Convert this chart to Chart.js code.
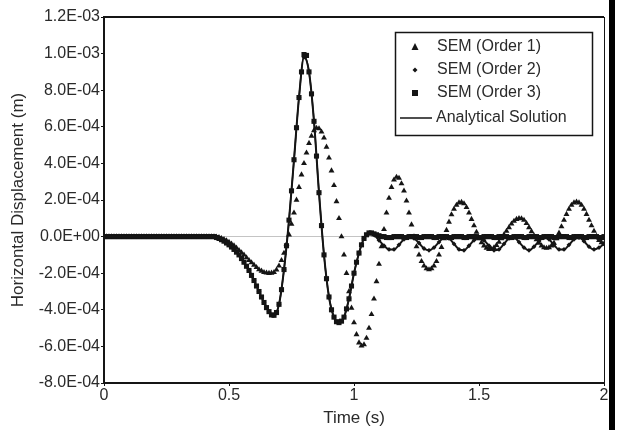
<!DOCTYPE html>
<html>
<head>
<meta charset="utf-8">
<script src="https://cdn.jsdelivr.net/npm/chart.js@4"></script>
<style>
  html, body { margin: 0; padding: 0; background: #fff; }
  canvas { display: block; }
</style>
</head>
<body>
<canvas id="c" width="619" height="430"></canvas>
<script>
// coarse time samples (s), every 0.02 s: analytical line and order 2
const times = [
  0.00, 0.02, 0.04, 0.06, 0.08, 0.10, 0.12, 0.14, 0.16, 0.18,
  0.20, 0.22, 0.24, 0.26, 0.28, 0.30, 0.32, 0.34, 0.36, 0.38,
  0.40, 0.42, 0.44, 0.46, 0.48, 0.50, 0.52, 0.54, 0.56, 0.58,
  0.60, 0.62, 0.64, 0.66, 0.68, 0.70, 0.72, 0.74, 0.76, 0.78,
  0.80, 0.82, 0.84, 0.86, 0.88, 0.90, 0.92, 0.94, 0.96, 0.98,
  1.00, 1.02, 1.04, 1.06, 1.08, 1.10, 1.12, 1.14, 1.16, 1.18,
  1.20, 1.22, 1.24, 1.26, 1.28, 1.30, 1.32, 1.34, 1.36, 1.38,
  1.40, 1.42, 1.44, 1.46, 1.48, 1.50, 1.52, 1.54, 1.56, 1.58,
  1.60, 1.62, 1.64, 1.66, 1.68, 1.70, 1.72, 1.74, 1.76, 1.78,
  1.80, 1.82, 1.84, 1.86, 1.88, 1.90, 1.92, 1.94, 1.96, 1.98,
  2.00
];

// fine time samples (s), every 0.01 s: order 1 and order 3 markers
const timesFine = [
  0.00, 0.01, 0.02, 0.03, 0.04, 0.05, 0.06, 0.07, 0.08, 0.09,
  0.10, 0.11, 0.12, 0.13, 0.14, 0.15, 0.16, 0.17, 0.18, 0.19,
  0.20, 0.21, 0.22, 0.23, 0.24, 0.25, 0.26, 0.27, 0.28, 0.29,
  0.30, 0.31, 0.32, 0.33, 0.34, 0.35, 0.36, 0.37, 0.38, 0.39,
  0.40, 0.41, 0.42, 0.43, 0.44, 0.45, 0.46, 0.47, 0.48, 0.49,
  0.50, 0.51, 0.52, 0.53, 0.54, 0.55, 0.56, 0.57, 0.58, 0.59,
  0.60, 0.61, 0.62, 0.63, 0.64, 0.65, 0.66, 0.67, 0.68, 0.69,
  0.70, 0.71, 0.72, 0.73, 0.74, 0.75, 0.76, 0.77, 0.78, 0.79,
  0.80, 0.81, 0.82, 0.83, 0.84, 0.85, 0.86, 0.87, 0.88, 0.89,
  0.90, 0.91, 0.92, 0.93, 0.94, 0.95, 0.96, 0.97, 0.98, 0.99,
  1.00, 1.01, 1.02, 1.03, 1.04, 1.05, 1.06, 1.07, 1.08, 1.09,
  1.10, 1.11, 1.12, 1.13, 1.14, 1.15, 1.16, 1.17, 1.18, 1.19,
  1.20, 1.21, 1.22, 1.23, 1.24, 1.25, 1.26, 1.27, 1.28, 1.29,
  1.30, 1.31, 1.32, 1.33, 1.34, 1.35, 1.36, 1.37, 1.38, 1.39,
  1.40, 1.41, 1.42, 1.43, 1.44, 1.45, 1.46, 1.47, 1.48, 1.49,
  1.50, 1.51, 1.52, 1.53, 1.54, 1.55, 1.56, 1.57, 1.58, 1.59,
  1.60, 1.61, 1.62, 1.63, 1.64, 1.65, 1.66, 1.67, 1.68, 1.69,
  1.70, 1.71, 1.72, 1.73, 1.74, 1.75, 1.76, 1.77, 1.78, 1.79,
  1.80, 1.81, 1.82, 1.83, 1.84, 1.85, 1.86, 1.87, 1.88, 1.89,
  1.90, 1.91, 1.92, 1.93, 1.94, 1.95, 1.96, 1.97, 1.98, 1.99,
  2.00
];

// displacements in units of 1E-04 m
const order1 = [
  0, 0, 0, 0, 0, 0, 0, 0, 0, 0,
  0, 0, 0, 0, 0, 0, 0, 0, 0, 0,
  0, 0, 0, 0, 0, 0, 0, 0, 0, 0,
  0, 0, 0, 0, 0, 0, 0, 0, 0, 0,
  0, 0, 0, 0, 0, -0.02, -0.05, -0.1, -0.15, -0.22,
  -0.3, -0.4, -0.5, -0.62, -0.75, -0.88, -1.0, -1.15, -1.3, -1.42,
  -1.55, -1.68, -1.8, -1.88, -1.95, -1.98, -2.0, -1.99, -1.95, -1.82,
  -1.6, -1.3, -0.9, -0.42, 0.1, 0.68, 1.3, 2.0, 2.7, 3.38,
  4.0, 4.58, 5.1, 5.5, 5.8, 5.93, 5.9, 5.72, 5.4, 4.9,
  4.3, 3.6, 2.8, 1.92, 1.0, 0.0, -1.0, -2.0, -3.0, -3.9,
  -4.7, -5.35, -5.8, -5.97, -5.9, -5.55, -5.0, -4.25, -3.4, -2.45,
  -1.5, -0.55, 0.4, 1.3, 2.1, 2.7, 3.1, 3.25, 3.2, 2.9,
  2.5, 1.95, 1.3, 0.65, 0.0, -0.55, -1.0, -1.35, -1.6, -1.75,
  -1.8, -1.75, -1.6, -1.35, -1.0, -0.58, -0.1, 0.35, 0.8, 1.2,
  1.5, 1.72, 1.85, 1.88, 1.8, 1.6, 1.3, 0.95, 0.6, 0.25,
  -0.1, -0.33, -0.5, -0.62, -0.7, -0.68, -0.6, -0.47, -0.3, -0.1,
  0.1, 0.3, 0.5, 0.7, 0.85, 0.95, 1.0, 0.98, 0.9, 0.72,
  0.5, 0.28, 0.05, -0.16, -0.35, -0.5, -0.6, -0.63, -0.6, -0.5,
  -0.35, -0.1, 0.2, 0.55, 0.9, 1.22, 1.5, 1.72, 1.85, 1.9,
  1.85, 1.72, 1.5, 1.22, 0.9, 0.6, 0.3, 0.03, -0.2, -0.32,
  -0.4
];

const order2 = [
  0, 0, 0, 0, 0, 0, 0, 0, 0, 0,
  0, 0, 0, 0, 0, 0, 0, 0, 0, 0,
  0, 0, 0, -0.1, -0.25, -0.45, -0.7, -1.0, -1.4, -1.85,
  -2.4, -3.0, -3.6, -4.1, -4.3, -3.7, -1.8, 0.9, 4.2, 7.6,
  9.8, 9.0, 6.3, 2.4, -1.0, -3.3, -4.4, -4.7, -4.4, -3.4,
  -2.0, -0.9, -0.1, 0.2, 0.1, -0.2, -0.5, -0.7, -0.7, -0.45,
  -0.15, 0, -0.1, -0.35, -0.65, -0.75, -0.6, -0.3, -0.05, -0.1,
  -0.4, -0.7, -0.75, -0.5, -0.2, -0.05, -0.2, -0.5, -0.75, -0.7,
  -0.4, -0.1, -0.05, -0.3, -0.6, -0.75, -0.55, -0.25, -0.05, -0.15,
  -0.45, -0.7, -0.7, -0.45, -0.15, -0.05, -0.25, -0.55, -0.7, -0.6,
  -0.4
];

const order3 = [
  0, 0, 0, 0, 0, 0, 0, 0, 0, 0,
  0, 0, 0, 0, 0, 0, 0, 0, 0, 0,
  0, 0, 0, 0, 0, 0, 0, 0, 0, 0,
  0, 0, 0, 0, 0, 0, 0, 0, 0, 0,
  0, 0, 0, 0, 0, -0.05, -0.1, -0.17, -0.25, -0.35,
  -0.45, -0.57, -0.7, -0.85, -1.0, -1.2, -1.4, -1.62, -1.85, -2.12,
  -2.4, -2.7, -3.0, -3.3, -3.6, -3.88, -4.1, -4.28, -4.3, -4.15,
  -3.7, -2.9, -1.8, -0.5, 0.9, 2.5, 4.2, 5.95, 7.6, 9.0,
  9.95, 9.9, 9.0, 7.8, 6.3, 4.4, 2.4, 0.6, -1.0, -2.3,
  -3.3, -4.0, -4.4, -4.65, -4.7, -4.62, -4.4, -3.95, -3.4, -2.7,
  -2.0, -1.4, -0.9, -0.45, -0.1, 0.1, 0.2, 0.2, 0.15, 0.1,
  0.05, 0, 0, -0.05, -0.05, -0.05, 0, 0, 0, 0,
  -0.05, -0.05, 0, 0, 0, 0, -0.05, -0.05, 0, 0,
  0, 0, -0.05, -0.05, 0, 0, 0, 0, -0.05, -0.05,
  0, 0, 0, 0, -0.05, -0.05, 0, 0, 0, 0,
  -0.05, -0.05, 0, 0, 0, 0, -0.05, -0.05, 0, 0,
  0, 0, -0.05, -0.05, 0, 0, 0, 0, -0.05, -0.05,
  0, 0, 0, 0, -0.05, -0.05, 0, 0, 0, 0,
  -0.05, -0.05, 0, 0, 0, 0, -0.05, -0.05, 0, 0,
  0, 0, -0.05, -0.05, 0, 0, 0, 0, -0.05, -0.05,
  0
];

const analytical = [
  0, 0, 0, 0, 0, 0, 0, 0, 0, 0,
  0, 0, 0, 0, 0, 0, 0, 0, 0, 0,
  0, 0, 0, -0.1, -0.25, -0.45, -0.7, -1.0, -1.4, -1.85,
  -2.4, -3.0, -3.6, -4.1, -4.3, -3.7, -1.8, 0.9, 4.2, 7.6,
  9.9, 9.0, 6.3, 2.4, -1.0, -3.3, -4.4, -4.7, -4.4, -3.4,
  -2.0, -0.9, -0.1, 0.2, 0.15, 0.05, 0, 0, 0, 0,
  0, 0, 0, 0, 0, 0, 0, 0, 0, 0,
  0, 0, 0, 0, 0, 0, 0, 0, 0, 0,
  0, 0, 0, 0, 0, 0, 0, 0, 0, 0,
  0, 0, 0, 0, 0, 0, 0, 0, 0, 0,
  0
];

const seriesNames = ["SEM (Order 1)", "SEM (Order 2)", "SEM (Order 3)", "Analytical Solution"];
const xTickLabels = ["0", "0.5", "1", "1.5", "2"];
const yTickLabels = [
  "-8.0E-04", "-6.0E-04", "-4.0E-04", "-2.0E-04", "0.0E+00",
  "2.0E-04", "4.0E-04", "6.0E-04", "8.0E-04", "1.0E-03", "1.2E-03"
];

const INK = "#151515";
const TEXT = "#2a2a2a";
const FONT = '"Liberation Sans", Arial, sans-serif';

const toPoints = (t, arr) => t.map((x, i) => ({ x, y: arr[i] }));

// legend box drawn inside the plot, upper right
const boxLegend = {
  id: "boxLegend",
  afterDraw(chart) {
    const { ctx } = chart;
    ctx.save();
    ctx.fillStyle = "#fff";
    ctx.fillRect(395, 32, 198, 104);
    ctx.strokeStyle = INK;
    ctx.lineWidth = 1.5;
    ctx.strokeRect(395.5, 32.5, 197, 103);

    const rows = [47, 70, 93, 118];
    const mx = 415;
    ctx.fillStyle = INK;
    ctx.beginPath();
    ctx.moveTo(mx, rows[0] - 4);
    ctx.lineTo(mx + 3.5, rows[0] + 3);
    ctx.lineTo(mx - 3.5, rows[0] + 3);
    ctx.closePath();
    ctx.fill();
    ctx.beginPath();
    ctx.moveTo(mx, rows[1] - 2.5);
    ctx.lineTo(mx + 2.5, rows[1]);
    ctx.lineTo(mx, rows[1] + 2.5);
    ctx.lineTo(mx - 2.5, rows[1]);
    ctx.closePath();
    ctx.fill();
    ctx.fillRect(mx - 3, rows[2] - 3, 6, 6);
    ctx.strokeStyle = INK;
    ctx.lineWidth = 1.5;
    ctx.beginPath();
    ctx.moveTo(400, rows[3]);
    ctx.lineTo(432, rows[3]);
    ctx.stroke();

    ctx.fillStyle = TEXT;
    ctx.font = "16px " + FONT;
    ctx.textBaseline = "middle";
    ctx.textAlign = "left";
    seriesNames.forEach((name, i) => {
      ctx.fillText(name, i === 3 ? 436 : 437, rows[i]);
    });
    ctx.restore();
  },
};

// top / right frame of the plot and the dark scan edge on the right
const frame = {
  id: "frame",
  beforeDatasetsDraw(chart) {
    const { ctx, chartArea: a } = chart;
    ctx.save();
    ctx.strokeStyle = INK;
    ctx.lineWidth = 2;
    ctx.beginPath();
    ctx.moveTo(a.left, a.top);
    ctx.lineTo(a.right, a.top);
    ctx.stroke();
    ctx.lineWidth = 1;
    ctx.beginPath();
    ctx.moveTo(a.right + 0.5, a.top);
    ctx.lineTo(a.right + 0.5, a.bottom);
    ctx.stroke();
    ctx.restore();
  },
  afterDraw(chart) {
    const { ctx } = chart;
    ctx.save();
    ctx.fillStyle = "#000";
    ctx.fillRect(609, 0, 6, 430);
    ctx.restore();
  },
};

Chart.defaults.font.family = FONT;
Chart.defaults.color = TEXT;

new Chart(document.getElementById("c"), {
  type: "line",
  data: {
    datasets: [
      {
        label: seriesNames[3],
        data: toPoints(times, analytical),
        borderColor: INK,
        borderWidth: 1.5,
        pointRadius: 0,
        tension: 0.4,
        cubicInterpolationMode: "monotone",
      },
      {
        label: seriesNames[0],
        data: toPoints(timesFine, order1),
        showLine: false,
        pointStyle: "triangle",
        pointRadius: 3.4,
        pointBackgroundColor: INK,
        pointBorderColor: INK,
        pointBorderWidth: 0,
      },
      {
        label: seriesNames[1],
        data: toPoints(times, order2),
        borderColor: INK,
        borderWidth: 2,
        tension: 0.4,
        cubicInterpolationMode: "monotone",
        pointStyle: "rectRot",
        pointRadius: 2.4,
        pointBackgroundColor: INK,
        pointBorderColor: INK,
        pointBorderWidth: 0,
      },
      {
        label: seriesNames[2],
        data: toPoints(timesFine, order3),
        showLine: false,
        pointStyle: "rect",
        pointRadius: 3.6,
        pointBackgroundColor: INK,
        pointBorderColor: INK,
        pointBorderWidth: 0,
      },
    ],
  },
  options: {
    responsive: false,
    animation: false,
    devicePixelRatio: 1,
    layout: { padding: { top: 17, right: 15, bottom: 0, left: 0 } },
    plugins: {
      legend: { display: false },
      tooltip: { enabled: false },
    },
    scales: {
      x: {
        type: "linear",
        min: 0,
        max: 2,
        afterFit: (s) => { s.height = 47; },
        afterBuildTicks: (s) => {
          s.ticks = xTickLabels.map((l, i) => ({ value: i * 0.5 }));
        },
        border: { display: true, color: INK, width: 2 },
        grid: { drawOnChartArea: false, tickLength: 3, tickColor: INK },
        ticks: {
          padding: 0,
          maxRotation: 0,
          font: { size: 16 },
          callback: (v, i) => xTickLabels[i],
        },
        title: {
          display: true,
          text: "Time (s)",
          font: { size: 17 },
          padding: { top: 0, bottom: 1 },
        },
      },
      y: {
        min: -8,
        max: 12,
        afterFit: (s) => { s.width = 104; },
        afterBuildTicks: (s) => {
          s.ticks = yTickLabels.map((l, i) => ({ value: -8 + i * 2 }));
        },
        border: { display: true, color: INK, width: 2 },
        grid: {
          tickLength: 3,
          tickColor: INK,
          color: (c) => (c.tick && c.tick.value === 0 ? "#c4c4c4" : "rgba(0,0,0,0)"),
          lineWidth: 1,
        },
        ticks: {
          padding: 1,
          font: { size: 16 },
          callback: (v, i) => yTickLabels[i],
        },
        title: {
          display: true,
          text: "Horizontal Displacement (m)",
          font: { size: 17 },
          padding: { top: 8, bottom: 0 },
        },
      },
    },
  },
  plugins: [frame, boxLegend],
});
</script>
</body>
</html>
